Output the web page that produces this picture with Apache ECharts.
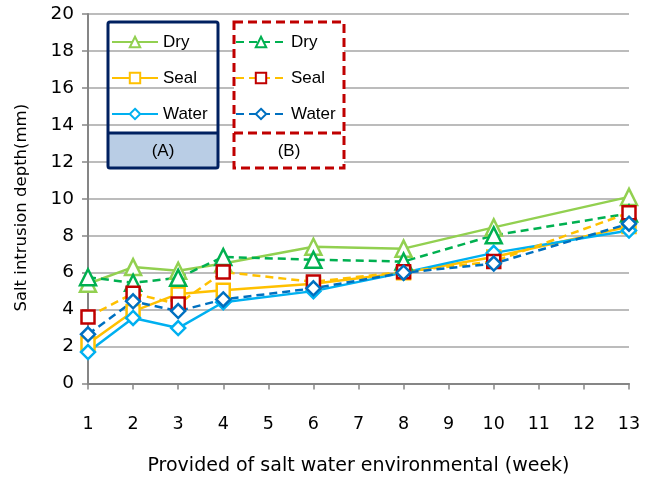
<!DOCTYPE html>
<html><head><meta charset="utf-8">
<script src="https://cdn.jsdelivr.net/npm/echarts@6/dist/echarts.min.js"></script>
<style>html,body{margin:0;padding:0;background:#fff}#c{width:649px;height:481px}</style>
</head><body><div id="c"></div>
<script>
const weeks = [1, 2, 3, 4, 6, 8, 10, 13];
const dryA = [5.4, 6.3, 6.1, 6.5, 7.4, 7.3, 8.45, 10.1];
const sealA = [2.15, 3.9, 4.85, 5.05, 5.4, 6.0, 6.85, 8.5];
const waterA = [1.7, 3.55, 3.0, 4.4, 5.0, 6.0, 7.07, 8.28];
const dryB = [5.75, 5.45, 5.72, 6.85, 6.7, 6.6, 8.02, 9.2];
const sealB = [3.6, 4.88, 4.3, 6.04, 5.5, 6.05, 6.6, 9.24];
const waterB = [2.66, 4.45, 3.92, 4.55, 5.15, 6.0, 6.49, 8.65];
const seriesNames = ['Dry', 'Seal', 'Water'];
const yTicks = [0, 2, 4, 6, 8, 10, 12, 14, 16, 18, 20];
const xTitle = 'Provided of salt water environmental (week)';
const yTitle = 'Salt intrusion depth(mm)';

const font = 'Liberation Sans, Arial, sans-serif';
const wide = 'DejaVu Sans, sans-serif';
function pts(vals) { return weeks.map((w, i) => [w, vals[i]]); }
function mk(name, vals, sym, lineColor, markColor, dashed, legendId) {
  return {
    name: name, id: legendId + name, type: 'line', data: pts(vals),
    symbol: sym, symbolSize: sym === 'diamond' ? 14 : (sym === 'triangle' ? 16 : 13),
    lineStyle: { color: lineColor, width: 2.5, type: dashed ? [8, 5] : 'solid' },
    itemStyle: { color: '#fff', borderColor: markColor, borderWidth: 2.5 },
    emphasis: { disabled: true }, animation: false
  };
}
const chart = echarts.init(document.getElementById('c'));
const sA = [
  mk('Dry', dryA, 'triangle', '#92d050', '#92d050', false, 'A'),
  mk('Seal', sealA, 'rect', '#ffc000', '#ffc000', false, 'A'),
  mk('Water', waterA, 'diamond', '#00b0f0', '#00b0f0', false, 'A')
];
const sB = [
  mk('Dry ', dryB, 'triangle', '#00b050', '#00b050', true, 'B'),
  mk('Seal ', sealB, 'rect', '#ffc000', '#c00000', true, 'B'),
  mk('Water ', waterB, 'diamond', '#0070c0', '#0070c0', true, 'B')
];
const legendCommon = {
  orient: 'vertical', itemHeight: 13, itemGap: 19,
  textStyle: { fontFamily: font, fontSize: 17, color: '#000' },
  selectedMode: false
};
chart.setOption({
  animation: false,
  grid: { left: 88, right: 20, top: 14, bottom: 97.5 },
  xAxis: {
    type: 'value', min: 1, max: 13, interval: 1,
    name: xTitle, nameLocation: 'middle', nameGap: 73,
    nameTextStyle: { fontFamily: wide, fontSize: 19, color: '#000' },
    axisLine: { lineStyle: { color: '#868686', width: 2 } },
    axisTick: { show: true, length: 6, lineStyle: { color: '#868686', width: 1.5 } },
    axisLabel: { margin: 32, fontFamily: wide, fontSize: 17.5, color: '#000' },
    splitLine: { show: false }
  },
  yAxis: {
    type: 'value', min: yTicks[0], max: yTicks[yTicks.length - 1], interval: 2,
    name: yTitle, nameLocation: 'middle', nameGap: 58,
    nameTextStyle: { fontFamily: wide, fontSize: 16.5, color: '#000', padding: [0, 18, 0, 0] },
    axisLine: { show: true, lineStyle: { color: '#868686', width: 2 } },
    axisTick: { show: true, length: 6, lineStyle: { color: '#868686', width: 1.5 } },
    axisLabel: { margin: 14, fontFamily: wide, fontSize: 18.5, color: '#000' },
    splitLine: { lineStyle: { color: '#a6a6a6', width: 1.5 } }
  },
  legend: [
    Object.assign({ id: 'la', left: 106, top: 28.5, itemWidth: 46, data: seriesNames }, legendCommon),
    Object.assign({ id: 'lb', left: 230, top: 28.5, itemWidth: 50, data: seriesNames.map(n => n + ' ') }, legendCommon)
  ],
  graphic: [
    { type: 'rect', shape: { x: 108, y: 133, width: 110, height: 35 }, style: { fill: '#b9cde5' }, z: 1 },
    { type: 'rect', shape: { x: 108, y: 22, width: 110, height: 146, r: 2 }, style: { fill: 'none', stroke: '#002060', lineWidth: 3 }, z: 2 },
    { type: 'line', shape: { x1: 108, y1: 133, x2: 218, y2: 133 }, style: { stroke: '#002060', lineWidth: 3 }, z: 2 },
    { type: 'text', x: 163, y: 151, style: { text: '(A)', font: '17px ' + font, fill: '#000', align: 'center', verticalAlign: 'middle' }, z: 3 },
    { type: 'rect', shape: { x: 234, y: 22, width: 110, height: 146 }, style: { fill: '#fff', stroke: '#c00000', lineWidth: 3, lineDash: [9, 5] }, z: 1 },
    { type: 'line', shape: { x1: 234, y1: 133, x2: 344, y2: 133 }, style: { stroke: '#c00000', lineWidth: 3, lineDash: [9, 5] }, z: 2 },
    { type: 'text', x: 289, y: 151, style: { text: '(B)', font: '17px ' + font, fill: '#000', align: 'center', verticalAlign: 'middle' }, z: 3 }
  ],
  series: sA.concat(sB)
});
</script></body></html>
